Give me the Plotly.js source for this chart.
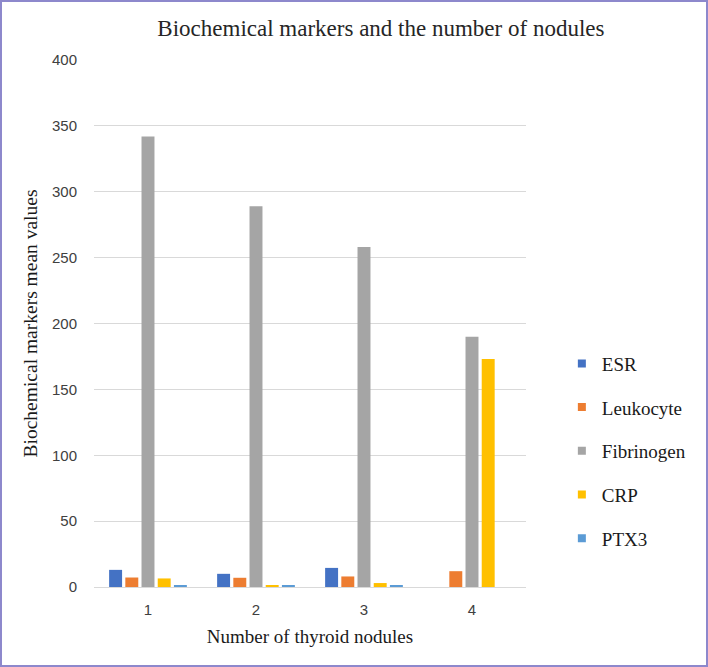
<!DOCTYPE html>
<html>
<head>
<meta charset="utf-8">
<script src="https://cdn.plot.ly/plotly-3.0.1.min.js"></script>
<style>
html,body{margin:0;padding:0;background:#fff;}
#wrap{position:relative;width:708px;height:667px;}
#chart{position:absolute;left:0;top:0;width:708px;height:667px;}
#frame{position:absolute;left:0;top:0;width:708px;height:667px;box-sizing:border-box;border:2px solid #8d88cc;pointer-events:none;}
</style>
</head>
<body>
<div id="wrap"><div id="chart"></div><div id="frame"></div></div>
<script>
const categories = ["1", "2", "3", "4"];
const seriesNames = ["ESR", "Leukocyte", "Fibrinogen", "CRP", "PTX3"];
const esr = [13, 10, 14.5, 0];
const leukocyte = [7.2, 7, 8, 12];
const fibrinogen = [342, 289, 258, 190];
const crp = [6.5, 1.5, 3, 173];
const ptx3 = [1.5, 1.5, 1.5, 0];
const yTicks = [0, 50, 100, 150, 200, 250, 300, 350, 400];

const colors = ["#4472C4", "#ED7D31", "#A5A5A5", "#FFC000", "#5B9BD5"];
const values = [esr, leukocyte, fibrinogen, crp, ptx3];

const traces = [];
values.forEach((v, i) => {
  traces.push({
    type: "bar", x: categories, y: v, name: seriesNames[i],
    marker: {color: colors[i]}, showlegend: false, hoverinfo: "x+y+name"
  });
});
seriesNames.forEach((n, i) => {
  traces.push({
    type: "scatter", mode: "markers", x: [null], y: [null], name: n,
    legendgroup: "g" + i,
    marker: {symbol: "square", size: 8, color: colors[i]}, hoverinfo: "skip"
  });
});

const serif = "Liberation Serif, Times New Roman, serif";
const layout = {
  width: 708, height: 667,
  margin: {l: 94, r: 182, t: 60, b: 80},
  paper_bgcolor: "#fff", plot_bgcolor: "#fff",
  barmode: "group", bargap: 0.25, bargroupgap: 0.2,
  title: {
    text: "Biochemical markers and the number of nodules",
    font: {family: serif, size: 23, color: "#262626"},
    xref: "container", x: 0.538, xanchor: "center",
    yref: "container", y: 0.958, yanchor: "middle"
  },
  xaxis: {
    type: "category", range: [-0.5, 3.5],
    showgrid: false, zeroline: false,
    showline: true, linecolor: "#d9d9d9", linewidth: 1,
    ticks: "", ticklabelstandoff: 9,
    tickfont: {family: "Liberation Sans, Arial, sans-serif", size: 15, color: "#404040"},
    title: {text: "Number of thyroid nodules", font: {family: serif, size: 19, color: "#1a1a1a"}, standoff: 12}
  },
  yaxis: {
    range: [0, 400], tickvals: yTicks, ticktext: yTicks.map(String),
    showgrid: true, gridcolor: "#d9d9d9", gridwidth: 1,
    zeroline: false, showline: false, ticks: "", ticklabelstandoff: 16,
    tickfont: {family: "Liberation Sans, Arial, sans-serif", size: 15, color: "#404040"},
    title: {text: "Biochemical markers mean values", font: {family: serif, size: 19.5, color: "#1a1a1a"}, standoff: 9}
  },
  legend: {
    x: 1.083, xref: "paper", xanchor: "left", y: 0.258, yanchor: "middle",
    font: {family: serif, size: 19, color: "#1a1a1a"},
    tracegroupgap: 16, itemwidth: 30, bgcolor: "rgba(0,0,0,0)"
  },
  showlegend: true
};

Plotly.newPlot("chart", traces, layout, {displayModeBar: false, staticPlot: true});
</script>
</body>
</html>
